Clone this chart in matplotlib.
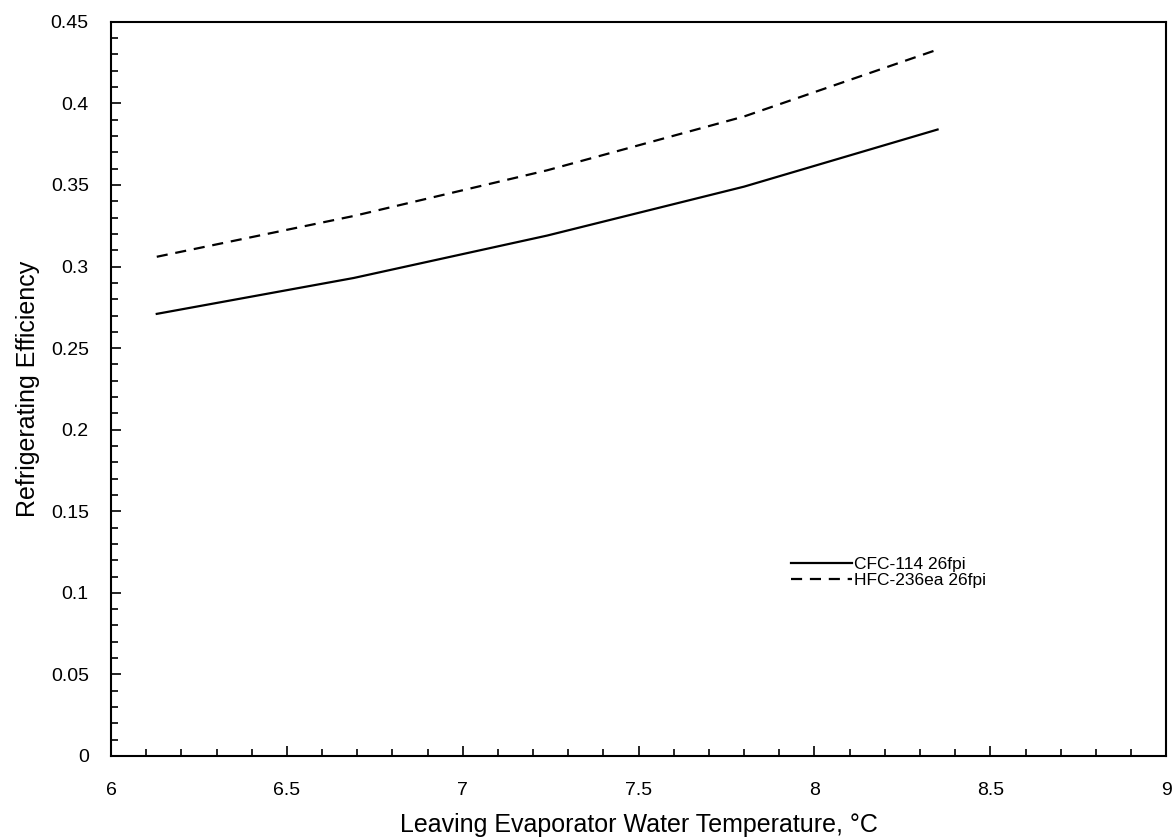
import numpy as np
import matplotlib
matplotlib.use("Agg")
import matplotlib.pyplot as plt
from matplotlib.ticker import MultipleLocator, FuncFormatter

# Datos
temperatura = [6.13, 6.69, 7.24, 7.80, 8.35]
cfc_114 = [0.271, 0.293, 0.319, 0.349, 0.384]
hfc_236ea = [0.306, 0.331, 0.359, 0.392, 0.433]
etiquetas = ["CFC-114 26fpi", "HFC-236ea 26fpi"]

plt.rcParams["font.family"] = ["Liberation Sans", "DejaVu Sans"]

fig = plt.figure(figsize=(11.75, 8.4), dpi=100)
ax = fig.add_axes([0.0945, 0.100, 0.898, 0.874])

ax.plot(temperatura, cfc_114, color="black", lw=1.6, label=etiquetas[0])
ax.plot(temperatura, hfc_236ea, color="black", lw=1.6,
        linestyle=(0, (5, 3.5)), label=etiquetas[1])

ax.set_xlim(6, 9)
ax.set_ylim(0, 0.45)
ax.xaxis.set_major_locator(MultipleLocator(0.5))
ax.xaxis.set_minor_locator(MultipleLocator(0.1))
ax.yaxis.set_major_locator(MultipleLocator(0.05))
ax.yaxis.set_minor_locator(MultipleLocator(0.01))
fmt = FuncFormatter(lambda v, p: f"{round(v, 3):g}")
ax.xaxis.set_major_formatter(fmt)
ax.yaxis.set_major_formatter(fmt)

ax.tick_params(which="both", direction="in", top=False, right=False,
               width=1.2, labelsize=14)
ax.tick_params(which="major", length=7)
ax.tick_params(which="minor", length=5)
ax.tick_params(axis="x", pad=19)
ax.tick_params(axis="y", pad=16)
for s in ax.spines.values():
    s.set_linewidth(1.5)

ax.set_xlabel("Leaving Evaporator Water Temperature, °C", fontsize=18, labelpad=10)
ax.set_ylabel("Refrigerating Efficiency", fontsize=18, labelpad=8)

ax.legend(loc="upper left", bbox_to_anchor=(0.63, 0.292), frameon=False,
          fontsize=12.5, handlelength=3.5, handletextpad=0.1, labelspacing=0.05)

fig.savefig("out.png", dpi=100)
